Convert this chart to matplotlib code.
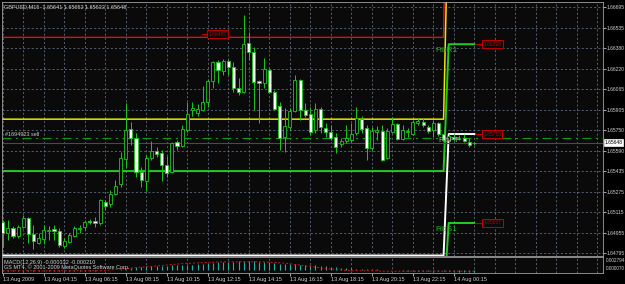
import numpy as np
import matplotlib.pyplot as plt
from matplotlib.transforms import blended_transform_factory

plt.rcParams['font.family'] = ['Liberation Sans', 'DejaVu Sans']

# GBPUSD M15 candles, 13 Aug 2009 00:00 onwards
opens = [1.65034, 1.64949, 1.64988, 1.64926, 1.64996, 1.65065, 1.64942, 1.64872, 1.64903, 1.64965,
         1.64980, 1.64965, 1.64849, 1.64880, 1.64926, 1.64980, 1.64996, 1.65042, 1.65042, 1.65027,
         1.65189, 1.65173, 1.65250, 1.65328, 1.65521, 1.65752, 1.65683, 1.65420, 1.65351, 1.65528,
         1.65582, 1.65567, 1.65474, 1.65420, 1.65652, 1.65621, 1.65745, 1.65899, 1.65876, 1.65899,
         1.65961, 1.66123, 1.66270, 1.66200, 1.66277, 1.66231, 1.66069, 1.66038, 1.66416, 1.66347,
         1.66123, 1.66107, 1.66208, 1.66038, 1.65930, 1.65691, 1.65768, 1.65891, 1.66131, 1.65899,
         1.65868, 1.65745, 1.65907, 1.65760, 1.65729, 1.65691, 1.65636, 1.65660, 1.65667, 1.65721,
         1.65829, 1.65760, 1.65606, 1.65729, 1.65737, 1.65528, 1.65729, 1.65791, 1.65675, 1.65729,
         1.65714, 1.65799, 1.65806, 1.65768, 1.65745, 1.65799, 1.65714, 1.65667, 1.65691, 1.65675,
         1.65683, 1.65652, 1.65641]
highs = [1.65050, 1.65050, 1.65003, 1.65011, 1.65088, 1.65073, 1.65011, 1.64949, 1.65011, 1.65003,
         1.65011, 1.64988, 1.64911, 1.64949, 1.65003, 1.65011, 1.65050, 1.65057, 1.65073, 1.65212,
         1.65204, 1.65281, 1.65359, 1.65575, 1.65953, 1.65806, 1.65721, 1.65459, 1.65552, 1.65660,
         1.65613, 1.65590, 1.65544, 1.65652, 1.65667, 1.65783, 1.65961, 1.65961, 1.65945, 1.66084,
         1.66138, 1.66277, 1.66285, 1.66293, 1.66293, 1.66270, 1.66146, 1.66632, 1.66501, 1.66385,
         1.66131, 1.66300, 1.66223, 1.66053, 1.65961, 1.65914, 1.65914, 1.66169, 1.66138, 1.65953,
         1.65922, 1.65953, 1.65922, 1.65799, 1.65783, 1.65721, 1.65683, 1.65783, 1.65799, 1.65922,
         1.65853, 1.65783, 1.65768, 1.65775, 1.65783, 1.65760, 1.65845, 1.65799, 1.65783, 1.65760,
         1.65822, 1.65837, 1.65837, 1.65783, 1.65822, 1.65806, 1.65737, 1.65714, 1.65721, 1.65706,
         1.65714, 1.65683, 1.65652]
lows = [1.64841, 1.64895, 1.64911, 1.64911, 1.64988, 1.64872, 1.64826, 1.64864, 1.64864, 1.64895,
        1.64895, 1.64841, 1.64834, 1.64872, 1.64919, 1.64949, 1.64973, 1.65019, 1.64996, 1.65011,
        1.65127, 1.65150, 1.65243, 1.65305, 1.65459, 1.65629, 1.65382, 1.65305, 1.65274, 1.65513,
        1.65536, 1.65351, 1.65382, 1.65413, 1.65590, 1.65613, 1.65729, 1.65853, 1.65853, 1.65891,
        1.65922, 1.66069, 1.66107, 1.66169, 1.66169, 1.66038, 1.66015, 1.66030, 1.66285, 1.65899,
        1.65799, 1.66069, 1.66030, 1.65899, 1.65590, 1.65575, 1.65745, 1.65884, 1.65822, 1.65845,
        1.65706, 1.65721, 1.65721, 1.65691, 1.65667, 1.65567, 1.65613, 1.65644, 1.65652, 1.65706,
        1.65721, 1.65513, 1.65590, 1.65667, 1.65505, 1.65521, 1.65721, 1.65667, 1.65667, 1.65691,
        1.65706, 1.65783, 1.65768, 1.65721, 1.65691, 1.65698, 1.65652, 1.65660, 1.65660, 1.65667,
        1.65652, 1.65613, 1.65633]
closes = [1.64949, 1.64988, 1.64926, 1.64996, 1.65065, 1.64942, 1.64888, 1.64911, 1.64973, 1.64973,
          1.64965, 1.64857, 1.64888, 1.64934, 1.64988, 1.64988, 1.65034, 1.65034, 1.65027, 1.65204,
          1.65158, 1.65250, 1.65312, 1.65528, 1.65745, 1.65683, 1.65420, 1.65359, 1.65528, 1.65582,
          1.65559, 1.65474, 1.65413, 1.65644, 1.65621, 1.65752, 1.65868, 1.65914, 1.65907, 1.65961,
          1.66123, 1.66270, 1.66208, 1.66277, 1.66231, 1.66069, 1.66038, 1.66408, 1.66347, 1.66115,
          1.66107, 1.66215, 1.66038, 1.65907, 1.65683, 1.65775, 1.65891, 1.66131, 1.65899, 1.65860,
          1.65729, 1.65907, 1.65768, 1.65729, 1.65683, 1.65613, 1.65660, 1.65683, 1.65714, 1.65837,
          1.65752, 1.65606, 1.65737, 1.65745, 1.65513, 1.65737, 1.65791, 1.65675, 1.65745, 1.65737,
          1.65806, 1.65814, 1.65783, 1.65737, 1.65799, 1.65714, 1.65667, 1.65698, 1.65675, 1.65683,
          1.65660, 1.65629, 1.65648]

# MACD(12,26,9), in units of 1e-4
macd_main = [-1, -1, -1, -1, -1, -1, -1, -1, -1, -1, -1, -1, -1, -1, -1, -1, -1, -1, -1,
             0, 0, 1, 1,
             2, 4, 6, 7, 8, 9, 9, 10,
             10, 10, 11, 11, 12, 12, 13, 14, 15, 16,
             17, 18, 19, 19, 19, 20, 21, 21, 20, 19,
             19, 18, 17, 15, 14, 14, 14, 13, 12, 11,
             11, 10, 9, 8, 7, 6, 5, 5, 4, 4,
             3, 2, 2, 1, 1, 0, 0, -1, -1, -1,
             -1, -1, -2, -2, -2, -2, -2, -3, -3, -3, -3, -3]
macd_signal = [-1] * 20 + [0, 1, 2, 3, 4, 5, 6, 7, 8, 9, 10,
                           11, 12, 13, 14, 15, 16, 16, 17, 17, 18,
                           18, 19, 19, 19, 19, 19, 19, 19, 19, 19, 19, 18, 18, 17, 16,
                           15, 13, 12, 10, 9, 7, 6, 4, 3, 2,
                           1, 0] + [-1] * 6 + [-2] * 19

# daily pivot levels: previous day / new day (new day starts at bar 87)
new_day_bar = 87
red_level = (1.66461, 1.69000)
yellow_level = (1.65829, 1.67600)
r1_level = (1.65428, 1.66408)
pp_level = (1.64776, 1.65714)
s1_level = (1.64400, 1.65027)
order_price = 1.65683
bid = 1.65648

y_labels = ["1.64795", "1.64955", "1.65115", "1.65275", "1.65435", "1.65590", "1.65750",
            "1.65905", "1.66065", "1.66220", "1.66380", "1.66535", "1.66695"]
x_labels = ["13 Aug 2009", "13 Aug 04:15", "13 Aug 06:15", "13 Aug 08:15", "13 Aug 10:15",
            "13 Aug 12:15", "13 Aug 14:15", "13 Aug 16:15", "13 Aug 18:15", "13 Aug 20:15",
            "13 Aug 22:15", "14 Aug 00:15"]

BG = '#0a0a0a'
GREEN = '#19c819'
GRID = '#6f7f90'
TXT = '#d0d0d0'

W, H = 625, 284
fig = plt.figure(figsize=(W / 100, H / 100), dpi=100, facecolor='black')


def px_box(x0, y0, x1, y1):
    return [x0 / W, 1 - y1 / H, (x1 - x0) / W, (y1 - y0) / H]


ax = fig.add_axes(px_box(2, 2, 603, 256))
ax2 = fig.add_axes(px_box(2, 257, 603, 273))

bars = np.arange(len(opens))
o = np.array(opens)
c = np.array(closes)

for a in (ax, ax2):
    a.set_facecolor(BG)
    a.set_xlim(-0.14, 117.1)
    for s in a.spines.values():
        s.set_color('#a0a0a0')
        s.set_linewidth(0.6)
    a.set_xticks(np.arange(0, 117, 4), minor=True)
    a.grid(True, which='minor', axis='x', color=GRID, ls=(0, (3, 3)), lw=0.5)
    a.tick_params(axis='x', which='minor', length=0)

# main window
ax.set_ylim(1.64772, 1.66734)
ax.set_yticks(np.linspace(1.64795, 1.66695, 13))
ax.set_yticklabels(y_labels)
ax.yaxis.tick_right()
ax.tick_params(axis='y', length=2, pad=0.8, labelsize=3.6, colors='#a0a0a0', labelcolor=TXT)
ax.grid(True, which='major', axis='y', color=GRID, ls=(0, (3, 3)), lw=0.5)
ax.set_xticks([])

# pivot lines
for lvl, col, lw in [(red_level, '#e01010', 1.0), (yellow_level, '#e6e600', 1.1),
                     (r1_level, '#22cc22', 1.4), (pp_level, 'white', 1.4),
                     (s1_level, '#22cc22', 1.4)]:
    vals = np.where(bars < new_day_bar, lvl[0], lvl[1])
    ax.plot(bars, vals, color=col, lw=lw, zorder=2)

ax.axhline(order_price, color='#0a9a0a', lw=0.8, ls=(0, (8, 4, 2, 4)), zorder=2)
ax.axhline(bid, color='#4a4a4a', lw=0.8, zorder=2)

# candles
ax.vlines(bars, lows, highs, color=GREEN, lw=0.7, zorder=3)
body_colors = [BG if cc >= oo else 'white' for oo, cc in zip(o, c)]
ax.bar(bars, np.maximum(np.abs(c - o), 0.00002), bottom=np.minimum(o, c), width=0.6,
       color=body_colors, edgecolor=GREEN, linewidth=0.6, zorder=4)

# level labels
def red_tag(x, y, s):
    ax.plot([x - 1.2, x], [y, y], color='#c00000', lw=0.8, zorder=5)
    ax.text(x + 0.15, y, s, fontsize=3.6, color='#b00000', ha='left', va='center', zorder=6,
            bbox=dict(boxstyle='square,pad=0.25', fc=BG, ec='#c00000', lw=0.7))

red_tag(40.0, 1.66485, "1.66485")
red_tag(93.6, r1_level[1], "1.66398")
red_tag(93.6, pp_level[1], "1.65718")
red_tag(93.6, s1_level[1], "1.65037")
ax.text(84.4, 1.66362, "FibR1", fontsize=6, color='#1fb01f', ha='left', va='center', zorder=6)
ax.text(85.0, 1.65667, "FibPP", fontsize=6, color='#a0a0a0', ha='left', va='center', zorder=6)
ax.text(84.4, 1.64980, "FibS1", fontsize=6, color='#1fb01f', ha='left', va='center', zorder=6)
ax.text(0.5, 1.65710, "#1694923 sell", fontsize=4, color='#c8c8c8', ha='left', va='center', zorder=6)

tr = blended_transform_factory(ax.transAxes, ax.transData)
ax.text(1.002, bid, "1.65648", transform=tr, fontsize=3.6, color='black', ha='left', va='center',
        clip_on=False, zorder=7, bbox=dict(boxstyle='square,pad=0.12', fc='white', ec='white', lw=0.5))

# MACD window
ax2.set_ylim(-0.0006, 0.0030)
ax2.set_yticks([])
ax2.vlines(bars, 0, np.array(macd_main) * 1e-4, color='#20b2aa', lw=0.8)
ax2.plot(bars, np.array(macd_signal) * 1e-4, color='#e01010', lw=0.7, ls=(0, (2, 2)))
ax2.set_xticks(np.arange(0, 89, 8))
ax2.set_xticklabels(x_labels, ha='left')
ax2.tick_params(axis='x', which='major', length=2, pad=1, labelsize=4, colors='#a0a0a0', labelcolor=TXT)

fig.text(605.5 / W, 1 - 261 / H, "0.002794", fontsize=3.4, color=TXT, va='center')
fig.text(605.5 / W, 1 - 268 / H, "0.000070", fontsize=3.4, color=TXT, va='center')
fig.text(4 / W, 1 - 262.5 / H, "MACD(12,26,9) -0.000332 -0.000210", fontsize=4, color=TXT, va='center')
fig.text(4 / W, 1 - 267.5 / H, "GS MT4, \u00a9 2001-2009 MetaQuotes Software Corp.", fontsize=4,
         color=TXT, va='center')

fig.text(4 / W, 1 - 6.5 / H, "GBPUSD,M15  1.65641 1.65652 1.65633 1.65648", fontsize=4,
         color=TXT, va='center')

fig.savefig('out.png', dpi=100, facecolor='black')
